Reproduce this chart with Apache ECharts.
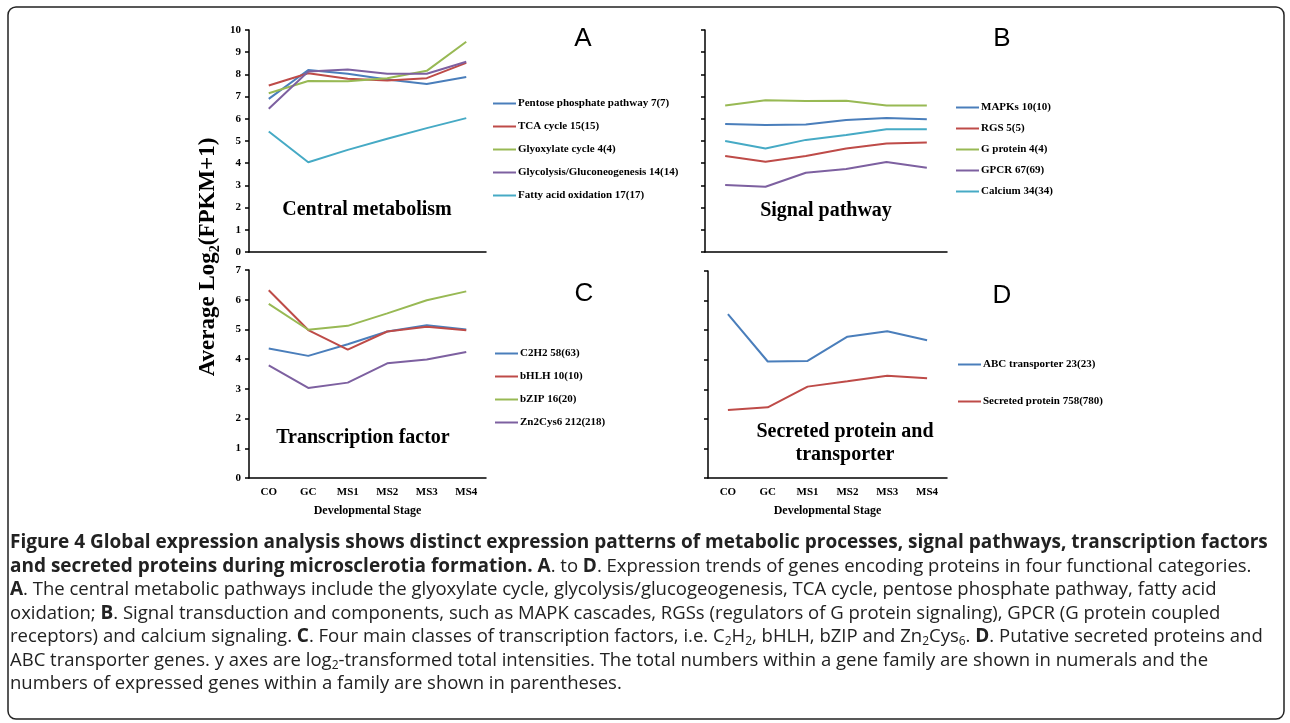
<!DOCTYPE html>
<html>
<head>
<meta charset="utf-8">
<script src="https://cdn.jsdelivr.net/npm/echarts@6/dist/echarts.min.js"></script>
<style>
	html, body { margin: 0; padding: 0; background: #fff; }
	#main { width: 1290px; height: 723px; }
</style>
</head>
<body>
<div id="main"></div>
<script>
var stages = ['CO', 'GC', 'MS1', 'MS2', 'MS3', 'MS4'];

// A 中心代谢
var namesA = ['Pentose phosphate pathway 7(7)', 'TCA cycle 15(15)', 'Glyoxylate cycle 4(4)', 'Glycolysis/Gluconeogenesis 14(14)', 'Fatty acid oxidation 17(17)'];
var pentose = [6.9, 8.2, 8.03, 7.77, 7.57, 7.88];
var tca = [7.5, 8.05, 7.8, 7.73, 7.83, 8.52];
var glyox = [7.15, 7.7, 7.69, 7.83, 8.16, 9.47];
var glycolysis = [6.45, 8.13, 8.22, 8.03, 8.03, 8.57];
var fatty = [5.43, 4.04, 4.6, 5.1, 5.58, 6.03];

// B 信号通路
var namesB = ['MAPKs 10(10)', 'RGS 5(5)', 'G protein 4(4)', 'GPCR 67(69)', 'Calcium 34(34)'];
var mapk = [5.77, 5.72, 5.74, 5.95, 6.04, 5.98];
var rgs = [4.32, 4.07, 4.32, 4.66, 4.89, 4.93];
var gprotein = [6.6, 6.84, 6.8, 6.81, 6.6, 6.6];
var gpcr = [3.02, 2.94, 3.57, 3.74, 4.05, 3.8];
var calcium = [5.0, 4.66, 5.05, 5.27, 5.53, 5.53];

// C 转录因子
var namesC = ['C2H2 58(63)', 'bHLH 10(10)', 'bZIP 16(20)', 'Zn2Cys6 212(218)'];
var c2h2 = [4.36, 4.11, 4.5, 4.93, 5.14, 5.0];
var bhlh = [6.32, 4.98, 4.32, 4.93, 5.09, 4.97];
var bzip = [5.86, 4.99, 5.12, 5.54, 5.98, 6.28];
var zn2cys6 = [3.79, 3.03, 3.21, 3.86, 3.99, 4.24];

// D 分泌蛋白和转运蛋白
var namesD = ['ABC transporter 23(23)', 'Secreted protein 758(780)'];
var abc = [5.54, 3.94, 3.96, 4.78, 4.96, 4.66];
var secreted = [2.3, 2.39, 3.09, 3.27, 3.46, 3.37];

var ticksAB = [0, 10];
var ticksCD = [0, 7];

var colors = ['#4a7ebb', '#be4b48', '#98b954', '#7d60a0', '#46aac5'];
var serif = '"Liberation Serif", "Times New Roman", serif';
var sans = '"Open Sans", "Noto Sans", sans-serif';

var myChart = echarts.init(document.getElementById('main'));

function xAx(i, showLabel) {
	return {
		type: 'category', gridIndex: i, data: stages, boundaryGap: true,
		axisLine: { lineStyle: { color: '#000', width: 1.5 } },
		axisTick: { length: 4, lineStyle: { color: '#000', width: 1.5 } },
		axisLabel: { show: showLabel, color: '#000', fontFamily: serif, fontWeight: 'bold', fontSize: 11, margin: 9 },
		name: showLabel ? 'Developmental Stage' : '',
		nameLocation: 'middle', nameGap: 27,
		nameTextStyle: { color: '#000', fontFamily: serif, fontWeight: 'bold', fontSize: 12 }
	};
}
function yAx(i, ticks, showLabel) {
	return {
		type: 'value', gridIndex: i, min: ticks[0], max: ticks[1], interval: 1,
		axisLine: { show: true, lineStyle: { color: '#000', width: 1.5 } },
		axisTick: { show: true, length: 4, lineStyle: { color: '#000', width: 1.5 } },
		axisLabel: { show: showLabel, color: '#000', fontFamily: serif, fontWeight: 'bold', fontSize: 11, margin: 8 },
		splitLine: { show: false }
	};
}
function line(name, data, idx, color) {
	return {
		name: name, type: 'line', data: data, xAxisIndex: idx, yAxisIndex: idx,
		showSymbol: false, symbol: 'none', color: color,
		lineStyle: { width: 2, color: color }
	};
}
function legend(names, left, top, gap) {
	return {
		data: names, orient: 'vertical', left: left, top: top, itemGap: gap,
		icon: 'rect', itemWidth: 23, itemHeight: 2,
		textStyle: { color: '#000', fontFamily: serif, fontWeight: 'bold', fontSize: 11, padding: [0, 0, 0, -3] },
		selectedMode: false
	};
}
function label(text, x, y, size, font, weight) {
	return {
		type: 'text', x: x, y: y,
		style: { text: text, fill: '#000', font: (weight || 'normal') + ' ' + size + 'px ' + font, align: 'center', verticalAlign: 'middle' }
	};
}

// 说明文字
var rich = {
	b: { fontFamily: sans, fontWeight: 'bold', fontSize: 19, lineHeight: 22, fill: '#222' },
	r: { fontFamily: sans, fontSize: 18.5, lineHeight: 22, fill: '#222' },
	s: { fontFamily: sans, fontSize: 12, lineHeight: 15, verticalAlign: 'bottom', fill: '#222' }
};
var captionLines = [
	'{b|Figure 4 Global expression analysis shows distinct expression patterns of metabolic processes, signal pathways, transcription factors}',
	'{b|and secreted proteins during microsclerotia formation. A}{r|. to }{b|D}{r|. Expression trends of genes encoding proteins in four functional categories.}',
	'{b|A}{r|. The central metabolic pathways include the glyoxylate cycle, glycolysis/glucogeogenesis, TCA cycle, pentose phosphate pathway, fatty acid}',
	'{r|oxidation; }{b|B}{r|. Signal transduction and components, such as MAPK cascades, RGSs (regulators of G protein signaling), GPCR (G protein coupled}',
	'{r|receptors) and calcium signaling. }{b|C}{r|. Four main classes of transcription factors, i.e. C}{s|2}{r|H}{s|2}{r|, bHLH, bZIP and Zn}{s|2}{r|Cys}{s|6}{r|. }{b|D}{r|. Putative secreted proteins and}',
	'{r|ABC transporter genes. y axes are log}{s|2}{r|-transformed total intensities. The total numbers within a gene family are shown in numerals and the}',
	'{r|numbers of expressed genes within a family are shown in parentheses.}'
];
var captionY = [543, 567, 590, 614, 637, 661, 684];

var graphics = [
	{ type: 'rect', shape: { x: 8, y: 7, width: 1276, height: 712, r: 8 }, style: { fill: 'none', stroke: '#222', lineWidth: 1.5 } },
	label('A', 583, 39, 26, '"Liberation Sans", Arial, sans-serif'),
	label('B', 1002, 39, 26, '"Liberation Sans", Arial, sans-serif'),
	label('C', 584, 294, 26, '"Liberation Sans", Arial, sans-serif'),
	label('D', 1002, 296, 26, '"Liberation Sans", Arial, sans-serif'),
	label('Central metabolism', 367, 210, 20, serif, 'bold'),
	label('Signal pathway', 826, 211, 20, serif, 'bold'),
	label('Transcription factor', 363, 438, 20, serif, 'bold'),
	label('Secreted protein and', 845, 432, 20, serif, 'bold'),
	label('transporter', 845, 455, 20, serif, 'bold'),
	{
		type: 'text', x: 208, y: 257, rotation: Math.PI / 2,
		style: {
			text: '{t|Average Log}{s|2}{t|(FPKM+1)}', align: 'center', verticalAlign: 'middle',
			rich: {
				t: { fontFamily: serif, fontWeight: 'bold', fontSize: 23, lineHeight: 28, fill: '#000' },
				s: { fontFamily: serif, fontWeight: 'bold', fontSize: 14, lineHeight: 18, verticalAlign: 'bottom', fill: '#000' }
			}
		}
	}
];
captionLines.forEach(function(t, i) {
	graphics.push({
		type: 'text', x: 10, y: captionY[i],
		style: { text: t, rich: rich, align: 'left', verticalAlign: 'middle' }
	});
});

var option = {
	animation: false,
	backgroundColor: '#fff',
	grid: [
		{ left: 249, top: 30, width: 237, height: 222 },
		{ left: 705, top: 30, width: 242, height: 222 },
		{ left: 249, top: 270, width: 237, height: 208 },
		{ left: 708, top: 271, width: 239, height: 207 }
	],
	xAxis: [xAx(0, false), xAx(1, false), xAx(2, true), xAx(3, true)],
	yAxis: [yAx(0, ticksAB, true), yAx(1, ticksAB, false), yAx(2, ticksCD, true), yAx(3, ticksCD, false)],
	legend: [
		legend(namesA, 488, 93, 12),
		legend(namesB, 951, 97, 10),
		legend(namesC, 490, 343, 12),
		legend(namesD, 953, 354, 26)
	],
	series: [
		line(namesA[0], pentose, 0, colors[0]),
		line(namesA[1], tca, 0, colors[1]),
		line(namesA[2], glyox, 0, colors[2]),
		line(namesA[3], glycolysis, 0, colors[3]),
		line(namesA[4], fatty, 0, colors[4]),
		line(namesB[0], mapk, 1, colors[0]),
		line(namesB[1], rgs, 1, colors[1]),
		line(namesB[2], gprotein, 1, colors[2]),
		line(namesB[3], gpcr, 1, colors[3]),
		line(namesB[4], calcium, 1, colors[4]),
		line(namesC[0], c2h2, 2, colors[0]),
		line(namesC[1], bhlh, 2, colors[1]),
		line(namesC[2], bzip, 2, colors[2]),
		line(namesC[3], zn2cys6, 2, colors[3]),
		line(namesD[0], abc, 3, colors[0]),
		line(namesD[1], secreted, 3, colors[1])
	],
	graphic: graphics
};
myChart.setOption(option);
</script>
</body>
</html>
